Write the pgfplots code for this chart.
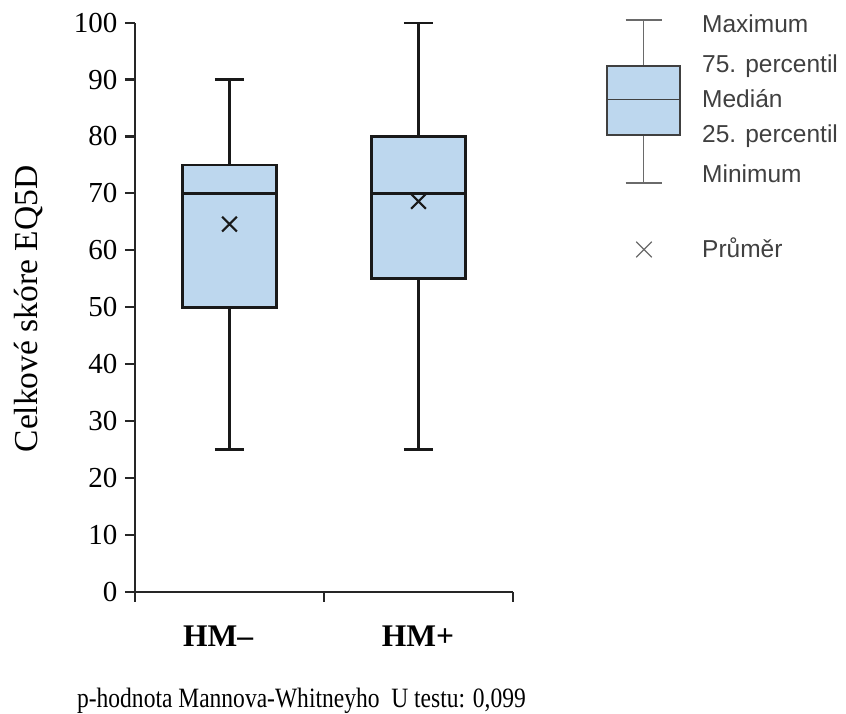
\documentclass[border=0pt]{standalone}
\usepackage{fontspec}
\setmainfont{Liberation Serif}
\newfontfamily\arial{Liberation Sans}
\usepackage{pgfplots}
\pgfplotsset{compat=1.18}
\definecolor{boxblue}{HTML}{BDD7EE}
\definecolor{leggray}{HTML}{404040}
\definecolor{legline}{HTML}{6A6A6A}
\tikzset{
  whisk/.style={draw=black!90, line width=2.2pt},
  box/.style={fill=boxblue, draw=black!90, line width=2.8pt},
  lwhisk/.style={draw=legline, line width=1.6pt},
  lbox/.style={fill=boxblue, draw=leggray, line width=1.8pt},
  lab/.style={anchor=base west, font=\arial\fontsize{24.5}{29}\selectfont, text=leggray, inner sep=0pt},
}
\begin{document}
\begin{tikzpicture}
\path[use as bounding box] (0,0) rectangle (846pt,713pt);
% main axis
\begin{axis}[
  scale only axis, width=378pt, height=569pt,
  at={(135pt,121.3pt)}, anchor=south west,
  xmin=0, xmax=2, ymin=0, ymax=100,
  axis x line*=bottom, axis y line*=left,
  axis line style={line width=2.2pt, draw=black!85},
  tick style={line width=2.2pt, draw=black!85},
  tick align=outside, major tick length=10pt,
  ytick={0,10,...,100},
  xtick={0,1,2}, xticklabels={},
  /pgf/number format/assume math mode=true,
  tick label style={font=\fontsize{29}{34}\selectfont},
  yticklabel style={xshift=-4pt},
  clip=false,
]
% HM-  : min 25, Q1 50, median 70, Q3 75, max 90
\addplot[whisk] coordinates {(0.5,25) (0.5,50)};
\addplot[whisk] coordinates {(0.5,75) (0.5,90)};
\addplot[whisk] coordinates {(0.423,25) (0.577,25)};
\addplot[whisk] coordinates {(0.423,90) (0.577,90)};
\addplot[box] coordinates {(0.25,50) (0.75,50) (0.75,75) (0.25,75)} -- cycle;
\addplot[whisk, line width=2.4pt] coordinates {(0.25,70) (0.75,70)};
% HM+  : min 25, Q1 55, median 70, Q3 80, max 100
\addplot[whisk] coordinates {(1.5,25) (1.5,55)};
\addplot[whisk] coordinates {(1.5,80) (1.5,100)};
\addplot[whisk] coordinates {(1.423,25) (1.577,25)};
\addplot[whisk] coordinates {(1.423,100) (1.577,100)};
\addplot[box] coordinates {(1.25,55) (1.75,55) (1.75,80) (1.25,80)} -- cycle;
\addplot[whisk, line width=2.4pt] coordinates {(1.25,70) (1.75,70)};
% means
\addplot[only marks, mark=x, mark size=10.5pt, line width=2.2pt, black!90] coordinates {(0.5,64.6) (1.5,68.6)};
\end{axis}
% overlay axis in pixel coordinates (legend and texts)
\begin{axis}[
  scale only axis, width=846pt, height=713pt,
  at={(0pt,0pt)}, anchor=south west,
  xmin=0, xmax=846, ymin=0, ymax=713, y dir=reverse,
  hide axis, clip=false,
]
\addplot[lwhisk] coordinates {(643.5,20) (643.5,66)};
\addplot[lwhisk] coordinates {(643.5,135) (643.5,183)};
\addplot[lwhisk] coordinates {(625.5,20) (661.5,20)};
\addplot[lwhisk] coordinates {(625.5,183) (661.5,183)};
\addplot[lbox] coordinates {(607,66) (680,66) (680,135) (607,135)} -- cycle;
\addplot[draw=leggray, line width=1.6pt] coordinates {(607,99.5) (680,99.5)};
\addplot[only marks, mark=x, mark size=11pt, line width=1.3pt, legline] coordinates {(644,249.5)};
\node[lab] at (axis cs:702,32) {Maximum};
\node[lab] at (axis cs:702,72) {75. percentil};
\node[lab] at (axis cs:702,107) {Medián};
\node[lab] at (axis cs:702,142) {25. percentil};
\node[lab] at (axis cs:702,182) {Minimum};
\node[lab] at (axis cs:702,257) {Průměr};
\node[anchor=base, font=\bfseries\fontsize{31.5}{36}\selectfont, inner sep=0pt] at (axis cs:218,646) {HM–};
\node[anchor=base, font=\bfseries\fontsize{31.5}{36}\selectfont, inner sep=0pt] at (axis cs:418,646) {HM+};
\node[anchor=base, rotate=90, font=\fontsize{33.5}{40}\selectfont, inner sep=0pt] at (axis cs:37,309) {Celkové skóre EQ5D};
\node[anchor=base, font=\fontsize{28}{34}\selectfont, inner sep=0pt] at (axis cs:301.5,707) {\scalebox{0.84}[1]{p-hodnota Mannova-Whitneyho\ \ U testu: 0,099}};
\end{axis}
\end{tikzpicture}
\end{document}
